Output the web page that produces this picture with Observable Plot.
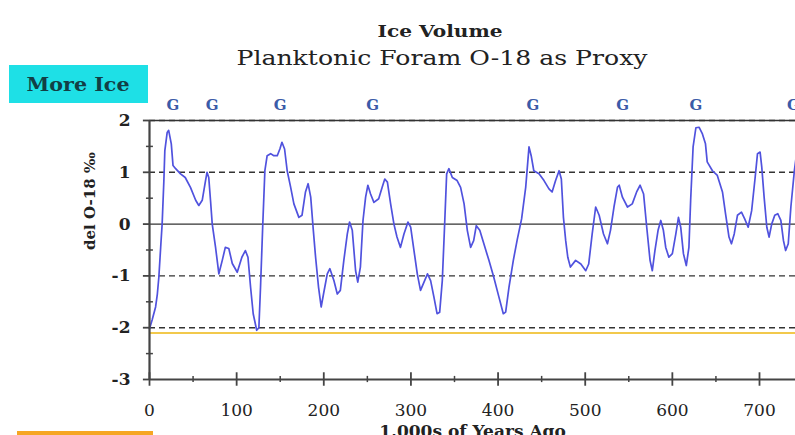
<!DOCTYPE html>
<html>
<head>
<meta charset="utf-8">
<script src="https://cdn.jsdelivr.net/npm/d3@7"></script>
<script src="https://cdn.jsdelivr.net/npm/@observablehq/plot@0.6"></script>
<style>
  html, body { margin: 0; padding: 0; background: #fff; }
  #wrap { position: relative; width: 795px; height: 435px; overflow: hidden; background: #fff; }
  #wrap svg { position: absolute; left: 0; top: 0; }
</style>
</head>
<body>
<div id="wrap"></div>
<script>
// ---- data ----
const ages = [0,3,7,9,10.7,13,14.5,16.5,17.6,20.3,22,25,27,30,35.6,41,47,53,56.6,60.5,64.3,66,68,70,72,75.8,79.6,83.5,87,91,95,100.7,106,110,113,116,119,123,125.5,127.4,130,132.4,135,139,142.7,146.6,149.6,152,155,158,162,165.7,171.4,175,179,182,185,188,190.6,194,197,200,204,207,211.6,215.5,219,223,227,229.6,232.7,236.5,239,242,245,248,250.6,253.7,257.5,263,267,270,273,276.7,280.5,284,288,292,296.6,299.7,303.5,307.3,311,315,319,322.6,326.4,330,333,336,338.7,341,343.6,347.5,353,357,361,364.7,368.5,372,375,379,383.7,389.5,395,401,406,408.7,412.5,417.5,422,427,431.7,435.5,438,441,447,452.7,458.4,462,466,470,472.6,475,477.6,480,483,489,495,500.6,504,508,512,516,521,525.5,529,533,537,539,542.7,548.5,554,559,563,567,570.6,574.4,577,580,583.6,586.7,589.7,592.4,596,600,604,607,609.6,612.7,616,619,621,623.8,627,630.6,634.5,638,640,646,651.6,657.5,661,665,667.8,671,674.7,679.3,683,687,691,695,697.7,700.7,702.6,705.3,708.4,711,714,717.5,721,724.5,727.5,730,733,736,740,742,745];
const delO18 = [-2.02,-1.85,-1.6,-1.35,-1.03,-0.4,0.0,0.84,1.42,1.77,1.81,1.55,1.13,1.07,0.97,0.9,0.71,0.46,0.36,0.46,0.84,1.0,0.9,0.46,0.0,-0.45,-0.96,-0.7,-0.45,-0.47,-0.76,-0.93,-0.64,-0.51,-0.64,-1.22,-1.73,-2.05,-2.0,-1.22,0.0,1.03,1.32,1.36,1.32,1.32,1.45,1.58,1.45,1.03,0.71,0.39,0.13,0.17,0.62,0.78,0.52,-0.12,-0.64,-1.22,-1.6,-1.32,-0.96,-0.86,-1.09,-1.35,-1.28,-0.7,-0.19,0.04,-0.12,-0.9,-1.12,-0.83,0.07,0.52,0.75,0.58,0.42,0.49,0.71,0.87,0.81,0.39,0.0,-0.25,-0.45,-0.19,0.04,-0.06,-0.51,-0.96,-1.28,-1.12,-0.96,-1.09,-1.41,-1.73,-1.7,-1.09,0.0,0.97,1.07,0.9,0.84,0.71,0.39,-0.12,-0.45,-0.32,-0.03,-0.12,-0.38,-0.7,-1.02,-1.41,-1.73,-1.7,-1.22,-0.7,-0.3,0.1,0.71,1.49,1.32,1.03,0.97,0.84,0.68,0.62,0.84,1.03,0.87,0.13,-0.32,-0.64,-0.83,-0.7,-0.77,-0.9,-0.77,-0.19,0.33,0.17,-0.19,-0.38,-0.12,0.33,0.71,0.75,0.52,0.33,0.39,0.62,0.75,0.58,-0.06,-0.7,-0.9,-0.51,-0.12,0.07,-0.12,-0.45,-0.64,-0.57,-0.19,0.13,-0.06,-0.57,-0.8,-0.45,0.46,1.49,1.86,1.87,1.74,1.55,1.2,1.03,0.94,0.62,0.2,-0.25,-0.38,-0.19,0.17,0.23,0.1,-0.06,0.26,0.9,1.36,1.39,1.1,0.52,-0.06,-0.25,0.0,0.17,0.2,0.07,-0.32,-0.51,-0.38,0.33,1.03,1.29,1.5];
const glacialAges = [27, 72, 150, 256, 440, 543, 627, 739];
const xTicks = [0, 100, 200, 300, 400, 500, 600, 700];
const xMinorTicks = [50, 150, 250, 350, 450, 550, 650, 750];
const yTicks = [-3, -2, -1, 0, 1, 2];
const yMinorTicks = [-2.5, -1.5, -0.5, 0.5, 1.5];
const dashedLevels = [2, 1, -1, -2];
const solidLevels = [0, 2];
const iceLevel = [-2.1];
const titleText = "Ice Volume";
const subtitleText = "Planktonic Foram O-18 as Proxy";
const yLabel = "del O-18 \u2030";
const xLabel = "1,000s of Years Ago";
const moreIceText = "More Ice";
const glacialMark = "G";

const data = ages.map((a, i) => ({age: a, v: delO18[i]}));
const serif = "DejaVu Serif";

const chart = Plot.plot({
  width: 795,
  height: 435,
  marginTop: 120,
  marginBottom: 56,
  marginLeft: 149,
  marginRight: 0,
  x: {domain: [0, 700], range: [149, 759]},
  y: {domain: [-3, 2], range: [379, 120]},
  style: {fontFamily: serif, fontSize: "17px", color: "#222", background: "transparent"},
  marks: [
    Plot.ruleY(iceLevel, {stroke: "#f2c94c", strokeWidth: 2}),
    Plot.ruleY(dashedLevels, {stroke: "#333", strokeWidth: 1.4, strokeDasharray: "6,4"}),
    Plot.ruleY(solidLevels, {stroke: "#333", strokeWidth: 1.3}),
    Plot.line(data, {x: "age", y: "v", stroke: "#5052de", strokeWidth: 1.7}),
    Plot.ruleX([0], {y1: -3, y2: 2, stroke: "#444", strokeWidth: 2.2}),
    Plot.ruleY([-3], {stroke: "#444", strokeWidth: 2.2}),
    Plot.ruleY(yTicks, {x1: -7, x2: 0, stroke: "#444", strokeWidth: 1.8}),
    Plot.ruleY(yMinorTicks, {x1: -3.5, x2: 4.5, stroke: "#444", strokeWidth: 1.5}),
    Plot.ruleX(xTicks, {y1: -3.13, y2: -2.87, stroke: "#444", strokeWidth: 1.8}),
    Plot.ruleX(xMinorTicks, {y1: -3.06, y2: -2.94, stroke: "#444", strokeWidth: 1.5}),
    Plot.axisX({ticks: xTicks, tickSize: 0, tickPadding: 24, tickFormat: d => String(d), label: null, fontSize: 17, fill: "#222"}),
    Plot.axisY({ticks: yTicks, tickSize: 0, tickPadding: 19, tickFormat: d => String(d), label: null, fontSize: 17, fontWeight: "bold", fill: "#222"}),
    Plot.text(glacialAges, {x: d => d, y: () => 2, dy: -15, text: () => glacialMark, fill: "#3b5ba8", fontWeight: "bold", fontSize: 15}),
    Plot.text([yLabel], {frameAnchor: "left", dx: -59, rotate: -90, text: d => d, fontWeight: "bold", fontSize: 15, fill: "#222"}),
    Plot.text([xLabel], {frameAnchor: "bottom", dy: 57, text: d => d, fontWeight: "bold", fontSize: 17, fill: "#222"})
  ]
});

const wrap = document.getElementById("wrap");

// overlay for titles and colored boxes
const ov = d3.select(wrap).append("svg")
  .attr("width", 795).attr("height", 435)
  .style("font-family", serif);
ov.append("rect").attr("x", 9).attr("y", 65).attr("width", 139).attr("height", 38).attr("fill", "#1ee0e6");
ov.append("text").attr("x", 78).attr("y", 91).attr("text-anchor", "middle")
  .attr("font-size", 18).attr("font-weight", "bold").attr("fill", "#123f45")
  .attr("textLength", 103).attr("lengthAdjust", "spacingAndGlyphs").text(moreIceText);
ov.append("rect").attr("x", 17).attr("y", 431).attr("width", 136).attr("height", 10).attr("fill", "#f6a623");
ov.append("text").attr("x", 440).attr("y", 37).attr("text-anchor", "middle")
  .attr("font-size", 17).attr("font-weight", "bold").attr("fill", "#222")
  .attr("textLength", 125).attr("lengthAdjust", "spacingAndGlyphs").text(titleText);
ov.append("text").attr("x", 442).attr("y", 65).attr("text-anchor", "middle")
  .attr("font-size", 21).attr("fill", "#222")
  .attr("textLength", 411).attr("lengthAdjust", "spacingAndGlyphs").text(subtitleText);

wrap.appendChild(chart);
</script>
</body>
</html>
